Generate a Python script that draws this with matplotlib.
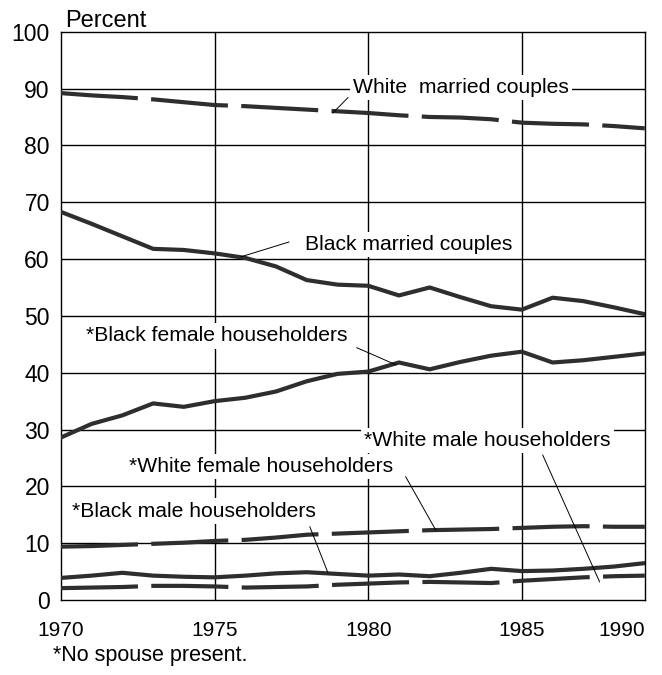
import matplotlib
matplotlib.use('Agg')
import matplotlib.pyplot as plt

plt.rcParams['font.family'] = ['Liberation Sans', 'DejaVu Sans']

# family composition data, percent of families
years = list(range(1970, 1990))
white_married = [89.2, 88.8, 88.5, 88.1, 87.6, 87.1, 86.9, 86.6, 86.3, 86.0,
                 85.7, 85.3, 85.0, 84.9, 84.6, 84.0, 83.8, 83.7, 83.4, 83.0]
black_married = [68.3, 66.2, 64.0, 61.8, 61.6, 61.0, 60.2, 58.7, 56.3, 55.5,
                 55.3, 53.6, 55.0, 53.3, 51.7, 51.1, 53.2, 52.6, 51.5, 50.3]
black_female = [28.6, 31.0, 32.5, 34.6, 34.0, 35.0, 35.6, 36.7, 38.5, 39.8,
                40.2, 41.8, 40.6, 41.9, 43.0, 43.7, 41.8, 42.2, 42.8, 43.4]
white_female = [9.4, 9.5, 9.7, 9.9, 10.1, 10.4, 10.6, 11.0, 11.5, 11.7,
                11.9, 12.1, 12.3, 12.4, 12.5, 12.7, 12.9, 13.0, 12.9, 12.9]
black_male = [3.9, 4.3, 4.8, 4.3, 4.1, 4.0, 4.3, 4.7, 4.9, 4.6,
              4.3, 4.5, 4.2, 4.8, 5.5, 5.1, 5.2, 5.5, 5.9, 6.5]
white_male = [2.1, 2.2, 2.3, 2.5, 2.5, 2.4, 2.2, 2.3, 2.4, 2.7,
              2.9, 3.1, 3.2, 3.1, 3.0, 3.4, 3.7, 4.0, 4.2, 4.3]

xtick_years = [1970, 1975, 1980, 1985, 1989]
xtick_labels = ['1970', '1975', '1980', '1985', '1990']
yticks = list(range(0, 101, 10))

fig = plt.figure(figsize=(6.62, 6.75), dpi=100)
ax = fig.add_axes([0.092, 0.111, 0.882, 0.842])

line_color = '#2e2e2e'
dash = (0, (18.5, 3.2))
ax.plot(years, white_married, color=line_color, lw=3.0, ls=dash, zorder=4)
ax.plot(years, black_married, color=line_color, lw=3.0, zorder=4)
ax.plot(years, black_female, color=line_color, lw=3.0, zorder=4)
ax.plot(years, white_female, color=line_color, lw=3.0, ls=dash, zorder=4)
ax.plot(years, black_male, color=line_color, lw=3.0, zorder=4)
ax.plot(years, white_male, color=line_color, lw=3.0, ls=dash, zorder=4)

ax.set_xlim(1970, 1989)
ax.set_ylim(0, 100)
ax.set_yticks(yticks)
ax.set_xticks(xtick_years)
ax.set_xticklabels(xtick_labels)
ax.tick_params(axis='both', length=0)
ax.tick_params(axis='y', pad=8, labelsize=16.5)
ax.tick_params(axis='x', pad=15, labelsize=15)
ax.get_xticklabels()[-1].set_ha('right')

for y in yticks[1:-1]:
    ax.axhline(y, color='black', lw=1.0, zorder=1)
for x in xtick_years[1:-1]:
    ax.axvline(x, color='black', lw=1.0, zorder=1)
for s in ax.spines.values():
    s.set_linewidth(1.0)

box = dict(boxstyle='square,pad=0.15', fc='white', ec='none')
labels = [
    ('White  married couples', 1979.5, 89.2, (1979.34, 88.4), (1978.85, 85.7)),
    ('Black married couples', 1977.94, 61.6, (1977.42, 63.0), (1975.86, 60.4)),
    ('*Black female householders', 1970.83, 45.5, (1979.63, 44.4), (1980.9, 41.4)),
    ('*White male householders', 1979.86, 27.1, (1985.68, 25.5), (1987.53, 3.2)),
    ('*White female householders', 1972.2, 22.5, (1981.22, 21.7), (1982.2, 12.3)),
    ('*Black male householders', 1970.35, 14.7, (1978.1, 12.9), (1978.69, 4.8)),
]
for text, tx, ty, p0, p1 in labels:
    ax.text(tx, ty, text, fontsize=15.2, va='baseline', ha='left', bbox=box, zorder=3)
    ax.plot([p0[0], p1[0]], [p0[1], p1[1]], color='black', lw=0.7, zorder=5)

ax.text(0.007, 1.009, 'Percent', transform=ax.transAxes, fontsize=17,
        va='baseline', ha='left')
fig.text(53 / 662, 1 - 661 / 675, '*No spouse present.', fontsize=15.5,
         va='baseline', ha='left')

fig.savefig('out.png', dpi=100)
